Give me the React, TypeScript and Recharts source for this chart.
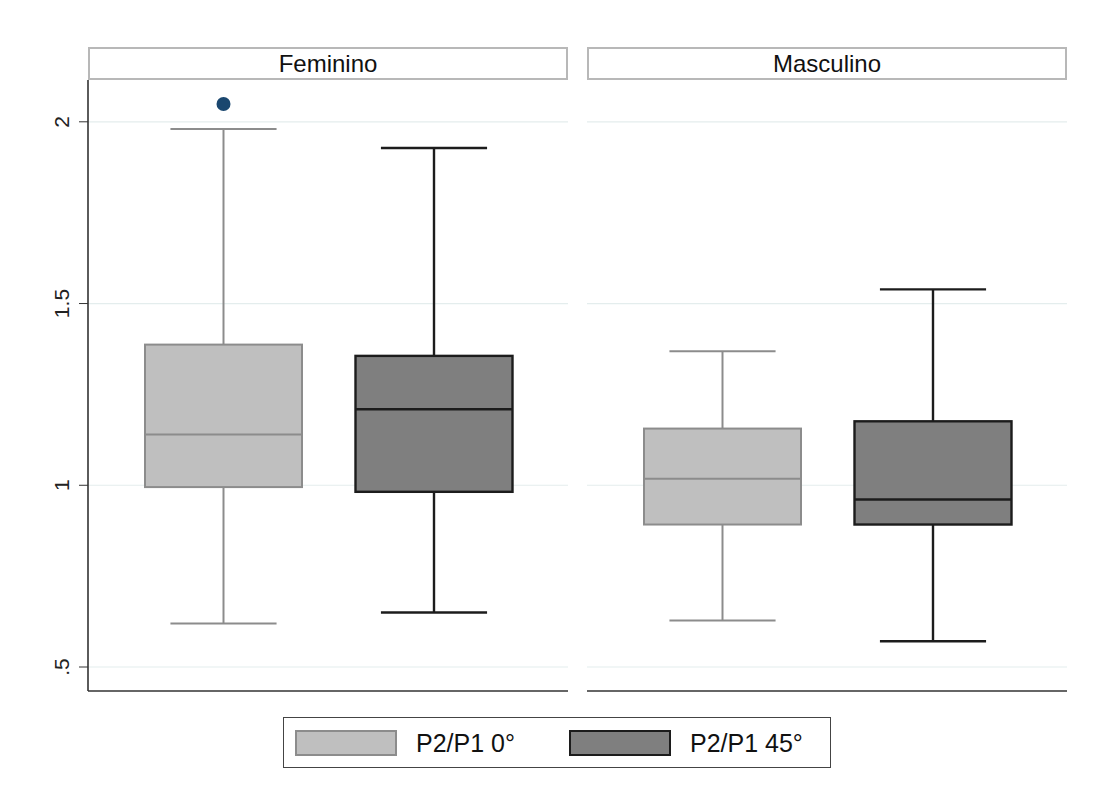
import { ComposedChart, Bar, XAxis, YAxis, CartesianGrid } from 'recharts';

const GROUPS = ['Feminino', 'Masculino'];
const SERIES = ['P2/P1 0°', 'P2/P1 45°'];

// [group][series]
const WHISKER_LOW = [[0.62, 0.65], [0.628, 0.571]];
const Q1 = [[0.995, 0.982], [0.892, 0.892]];
const MEDIAN = [[1.14, 1.209], [1.018, 0.961]];
const Q3 = [[1.387, 1.356], [1.156, 1.176]];
const WHISKER_HIGH = [[1.98, 1.928], [1.369, 1.539]];
const OUTLIERS = [[[2.049], []], [[], []]];

const Y_TICKS = [0.5, 1, 1.5, 2];
const Y_TICK_LABELS = ['.5', '1', '1.5', '2'];
const Y_DOMAIN = [0.434, 2.115];

const STYLES = [
  { fill: '#bfbfbf', stroke: '#8c8c8c', width: 2 }, // 0°
  { fill: '#7f7f7f', stroke: '#1c1c1c', width: 2.4 }, // 45°
];

const FONT = '"Liberation Sans", Arial, Helvetica, sans-serif';

function buildRows(g: number) {
  return SERIES.map((name, si) => ({
    series: name,
    si,
    low: WHISKER_LOW[g][si],
    q1: Q1[g][si],
    median: MEDIAN[g][si],
    q3: Q3[g][si],
    high: WHISKER_HIGH[g][si],
    outliers: OUTLIERS[g][si],
    range: [WHISKER_LOW[g][si], WHISKER_HIGH[g][si]],
  }));
}

function BoxShape(props: any) {
  const { x, y, width, height, payload } = props;
  const st = STYLES[payload.si];
  const top = Math.min(y, y + height);
  const h = Math.abs(height);
  // linear map from value to pixel, taken from the bar's own scaled extent
  const py = (v: number) => top + ((payload.high - v) / (payload.high - payload.low)) * h;
  const cx = x + width / 2;
  const cap = width * 0.338;
  return (
    <g>
      <line x1={cx} x2={cx} y1={py(payload.high)} y2={py(payload.q3)} stroke={st.stroke} strokeWidth={st.width} />
      <line x1={cx} x2={cx} y1={py(payload.q1)} y2={py(payload.low)} stroke={st.stroke} strokeWidth={st.width} />
      <line x1={cx - cap} x2={cx + cap} y1={py(payload.high)} y2={py(payload.high)} stroke={st.stroke} strokeWidth={st.width} />
      <line x1={cx - cap} x2={cx + cap} y1={py(payload.low)} y2={py(payload.low)} stroke={st.stroke} strokeWidth={st.width} />
      <rect
        x={x}
        y={py(payload.q3)}
        width={width}
        height={py(payload.q1) - py(payload.q3)}
        fill={st.fill}
        stroke={st.stroke}
        strokeWidth={st.width}
      />
      <line x1={x} x2={x + width} y1={py(payload.median)} y2={py(payload.median)} stroke={st.stroke} strokeWidth={st.width} />
      {payload.outliers.map((v: number, i: number) => (
        <circle key={i} cx={cx} cy={py(v)} r={7} fill="#1a476f" />
      ))}
    </g>
  );
}

function YTick(props: any) {
  const { x, y, payload } = props;
  const idx = Y_TICKS.indexOf(payload.value);
  return (
    <g transform={`translate(${x - 8},${y})`}>
      <text transform="rotate(-90)" textAnchor="middle" fill="#222" fontSize={21} fontFamily={FONT}>
        {Y_TICK_LABELS[idx]}
      </text>
    </g>
  );
}

function Panel({ g, left, width, margin }: { g: number; left: number; width: number; margin: any }) {
  const data = buildRows(g);
  const showAxis = g === 0;
  return (
    <div style={{ position: 'absolute', left, top: 0 }}>
      <ComposedChart width={width} height={798} data={data} margin={margin}>
        <CartesianGrid vertical={false} horizontalValues={Y_TICKS} stroke="#e4eded" strokeWidth={1.2} />
        <XAxis
          dataKey="series"
          type="category"
          height={1}
          tick={false}
          tickLine={false}
          axisLine={{ stroke: '#333', strokeWidth: 1.6 }}
          padding={{ left: 30, right: 29 }}
        />
        <YAxis
          type="number"
          domain={Y_DOMAIN}
          allowDataOverflow
          ticks={Y_TICKS}
          width={88}
          hide={!showAxis}
          tick={<YTick />}
          tickSize={9}
          tickLine={{ stroke: '#333' }}
          axisLine={{ stroke: '#333', strokeWidth: 1.6 }}
        />
        <Bar dataKey="range" barSize={157} shape={<BoxShape />} isAnimationActive={false} />
      </ComposedChart>
    </div>
  );
}

function Header({ text, left }: { text: string; left: number }) {
  return (
    <div
      style={{
        position: 'absolute',
        left,
        top: 47,
        width: 480,
        height: 33,
        boxSizing: 'border-box',
        border: '2px solid #b8b8b8',
        background: '#fff',
        fontFamily: FONT,
        fontSize: 24,
        color: '#111',
        textAlign: 'center',
        lineHeight: '29px',
      }}
    >
      {text}
    </div>
  );
}

export default function App() {
  return (
    <div style={{ position: 'absolute', left: 0, top: 0, width: 1094, height: 798, background: '#fff', overflow: 'hidden' }}>
      <Panel g={0} left={0} width={580} margin={{ top: 80, right: 12, bottom: 106, left: 0 }} />
      <Panel g={1} left={575} width={500} margin={{ top: 80, right: 8, bottom: 106, left: 12 }} />
      <Header text={GROUPS[0]} left={88} />
      <Header text={GROUPS[1]} left={587} />

      {/* Legend */}
      <div
        style={{
          position: 'absolute',
          left: 283,
          top: 717,
          width: 548,
          height: 51,
          boxSizing: 'border-box',
          border: '1.5px solid #444',
          background: '#fff',
          fontFamily: FONT,
          fontSize: 25,
          color: '#111',
        }}
      >
        {SERIES.map((name, si) => (
          <div key={name} style={{ position: 'absolute', left: si === 0 ? 11 : 285, top: 12, display: 'flex', alignItems: 'center' }}>
            <div
              style={{
                width: 102,
                height: 26,
                boxSizing: 'border-box',
                background: STYLES[si].fill,
                border: `${STYLES[si].width}px solid ${STYLES[si].stroke}`,
              }}
            />
            <span style={{ marginLeft: 19, lineHeight: '26px' }}>{name}</span>
          </div>
        ))}
      </div>
    </div>
  );
}
